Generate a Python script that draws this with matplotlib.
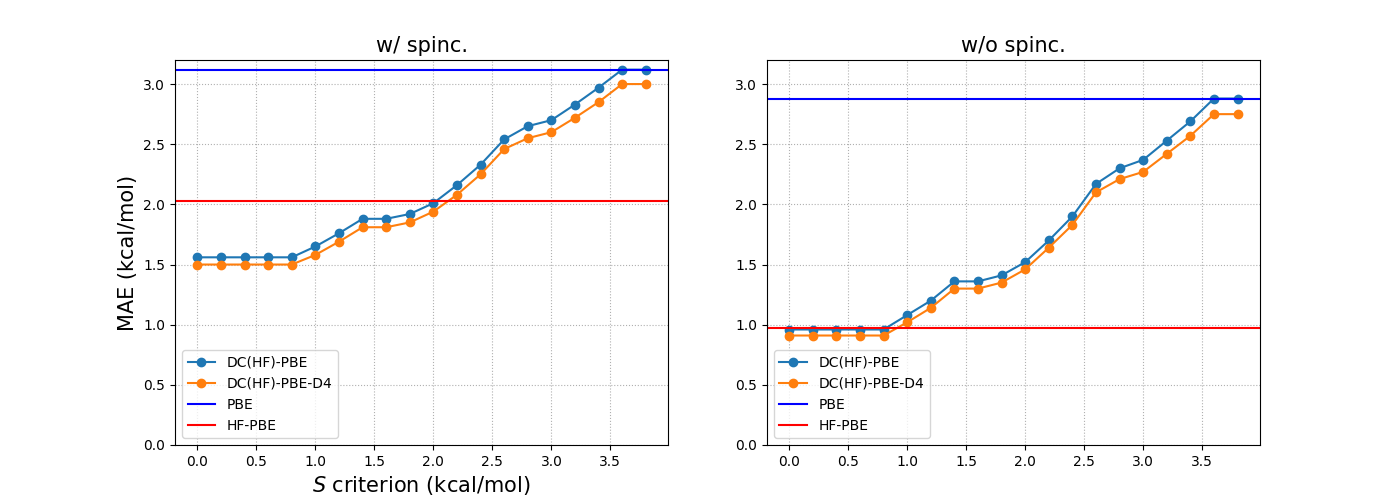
import matplotlib
matplotlib.use("Agg")
import matplotlib.pyplot as plt
import numpy as np

s_crit = [round(0.2 * i, 1) for i in range(20)]
left_dc = [1.56, 1.56, 1.56, 1.56, 1.56, 1.65, 1.76, 1.88, 1.88, 1.92, 2.01, 2.16, 2.33, 2.54, 2.65, 2.70, 2.83, 2.97, 3.12, 3.12]
left_d4 = [1.50, 1.50, 1.50, 1.50, 1.50, 1.58, 1.69, 1.81, 1.81, 1.85, 1.94, 2.08, 2.25, 2.46, 2.55, 2.60, 2.72, 2.85, 3.00, 3.00]
left_pbe = 3.12
left_hf = 2.03
right_dc = [0.96, 0.96, 0.96, 0.96, 0.96, 1.08, 1.20, 1.36, 1.36, 1.41, 1.52, 1.70, 1.90, 2.17, 2.30, 2.37, 2.53, 2.69, 2.88, 2.88]
right_d4 = [0.91, 0.91, 0.91, 0.91, 0.91, 1.02, 1.14, 1.30, 1.30, 1.35, 1.46, 1.64, 1.83, 2.10, 2.21, 2.27, 2.42, 2.57, 2.75, 2.75]
right_pbe = 2.88
right_hf = 0.97

fig, axes = plt.subplots(1, 2, figsize=(14, 5), dpi=100)
panels = [("w/ spinc.", left_dc, left_d4, left_pbe, left_hf),
          ("w/o spinc.", right_dc, right_d4, right_pbe, right_hf)]
for ax, (title, dc, d4, pbe, hf) in zip(axes, panels):
    ax.plot(s_crit, dc, marker="o", color="#1f77b4", label="DC(HF)-PBE")
    ax.plot(s_crit, d4, marker="o", color="#ff7f0e", label="DC(HF)-PBE-D4")
    ax.axhline(pbe, color="blue", label="PBE")
    ax.axhline(hf, color="red", label="HF-PBE")
    ax.set_ylim(0, 3.2)
    ax.grid(True, linestyle=":")
    ax.set_title(title, fontsize=15)
    ax.legend(loc="lower left")
axes[0].set_ylabel("MAE (kcal/mol)", fontsize=15)
axes[0].set_xlabel("$S$ criterion (kcal/mol)", fontsize=15)
fig.savefig("out.png")
